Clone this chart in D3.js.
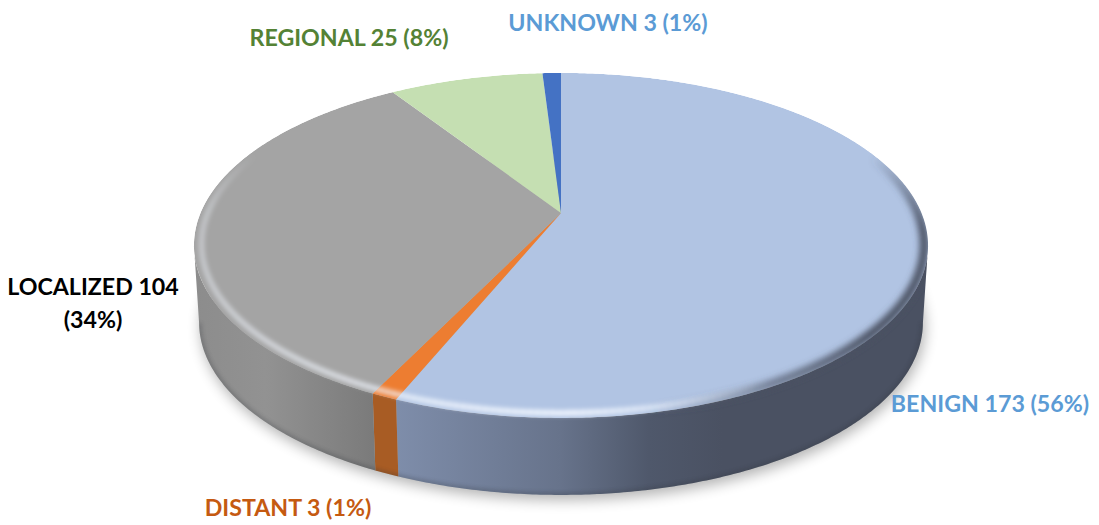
<!DOCTYPE html>
<html><head><meta charset="utf-8">
<script src="https://cdn.jsdelivr.net/npm/d3@7"></script>
<style>html,body{margin:0;padding:0;background:#fff}svg{display:block}text{font-family:Lato,sans-serif;font-weight:700;font-size:23.2px}</style>
</head><body><svg id="c" width="1099" height="525"></svg>
<script>
const categories=["BENIGN","DISTANT","LOCALIZED","REGIONAL","UNKNOWN"];
const values=[173,3,104,25,3];
const percents=["56%","1%","34%","8%","1%"];
const topColors=["#b1c4e3","#ed7d31","#a4a4a4","#c5dfb2","#4472c4"];
const labelColors=["#5b9bd5","#c55a11","#000000","#548235","#5b9bd5"];
const labelLines=[["BENIGN 173 (56%)"],["DISTANT 3 (1%)"],["LOCALIZED 104","(34%)"],["REGIONAL 25 (8%)"],["UNKNOWN 3 (1%)"]];
const labelAnchors=[[990,403],[288,507],[93,286],[349,37],[608,22]];
const wallStops=[
 [[0.27,"#7f8eab"],[0.5,"#67738b"],[0.62,"#4f586b"],[0.72,"#4a5162"],[1,"#4a5162"]],
 [[0,"#a85c24"],[1,"#a85c24"]],
 [[0,"#8c8c8c"],[0.1,"#929292"],[0.25,"#7a7a7a"],[0.3,"#747474"]],
 [[0,"#8fa080"],[1,"#8fa080"]],
 [[0,"#30518c"],[1,"#30518c"]]
];
const W=1099,H=525;
const cx=561,cy=213,A=360.5,B=166.4,K=-0.188,DEPTH=77,SHRINK=0.014;
const svg=d3.select("#c");
const defs=svg.append("defs");
const project=(t,z=0,r=1)=>{
  const u=r*Math.sin(t),v=-r*Math.cos(t),d=1+K*v;
  const X=A*u/d,Y=B*v/d;
  return [cx+X*(1-SHRINK*z),cy+Y+DEPTH*z];
};
const line=d3.line();
const arcs=d3.pie().sort(null).value(d=>d)(values);
const step=Math.PI/360;
const thetas=(a,b)=>{const n=Math.max(2,Math.ceil((b-a)/step));return d3.range(n+1).map(i=>a+(b-a)*i/n);};
const full=thetas(0,2*Math.PI);

defs.append("filter").attr("id","shadow").attr("x","-10%").attr("y","-20%").attr("width","120%").attr("height","140%")
  .append("feGaussianBlur").attr("stdDeviation",7);
defs.append("filter").attr("id","soft1").attr("x","-5%").attr("y","-5%").attr("width","110%").attr("height","110%")
  .append("feGaussianBlur").attr("stdDeviation",2.2);
defs.append("filter").attr("id","soft2").attr("x","-5%").attr("y","-5%").attr("width","110%").attr("height","110%")
  .append("feGaussianBlur").attr("stdDeviation",3);

const xg=d3.scaleLinear().domain([0,1]).range([192,929]);
wallStops.forEach((st,i)=>{
  const g=defs.append("linearGradient").attr("id","wall"+i).attr("gradientUnits","userSpaceOnUse")
    .attr("x1",xg(0)).attr("x2",xg(1)).attr("y1",0).attr("y2",0);
  st.forEach(s=>g.append("stop").attr("offset",s[0]).attr("stop-color",s[1]));
});

// silhouette angles: where the projected disc is widest
const sweep=thetas(0,2*Math.PI);
const frontA=d3.greatest(sweep,t=>project(t,0)[0]);
const frontB=d3.least(sweep,t=>project(t,0)[0]);
const wallPath=(a,b)=>{
  const ts=thetas(a,b);
  return line([...ts.map(t=>project(t,0)),...ts.slice().reverse().map(t=>project(t,1))])+"Z";
};
const clip=defs.append("clipPath").attr("id","body");
clip.append("path").attr("d",line(full.map(t=>project(t,0)))+"Z");
clip.append("path").attr("d",wallPath(frontA,frontB));

// drop shadow beneath the disc
svg.append("path").attr("d",line(full.map(t=>project(t,1)))+"Z")
  .attr("transform","translate(2,5)").attr("fill","#000").attr("opacity",0.3).attr("filter","url(#shadow)");

// side walls, visible front part only
arcs.forEach((d,i)=>{
  const a=Math.max(d.startAngle,frontA),b=Math.min(d.endAngle,frontB);
  if(b>a) svg.append("path").attr("d",wallPath(a,b)).attr("fill",`url(#wall${i})`);
});
const body=svg.append("g").attr("clip-path","url(#body)");
body.append("path").attr("d",line(thetas(frontA,frontB).map(t=>project(t,1))))
  .attr("fill","none").attr("stroke","#2f3338").attr("stroke-width",4).attr("opacity",0.3).attr("filter","url(#soft1)");

// top faces
arcs.forEach((d,i)=>{
  const pts=[project(0,0,0),...thetas(d.startAngle,d.endAngle).map(t=>project(t,0))];
  body.append("path").attr("d",line(pts)+"Z").attr("fill",topColors[i]);
});

// bevel
const deg=Math.PI/180;
const darkOp=d3.scaleLinear().domain([68,95,130,150,168]).range([0,0.95,1,0.55,0]).clamp(true);
const lightOp=d3.scaleLinear().domain([150,178,205,240,270,292]).range([0,0.85,0.6,0.4,0.3,0]).clamp(true);
const darkG=body.append("g").attr("filter","url(#soft2)");
const lightG=body.append("g").attr("filter","url(#soft1)");
d3.range(65,172,1).forEach(a=>{
  darkG.append("path").attr("d",line(thetas(a*deg,(a+1.2)*deg).map(t=>project(t,0,0.99))))
    .attr("fill","none").attr("stroke","#4a5162").attr("stroke-width",9).attr("opacity",darkOp(a));
});
d3.range(150,294,1).forEach(a=>{
  lightG.append("path").attr("d",line(thetas(a*deg,(a+1.2)*deg).map(t=>project(t,0,0.98))))
    .attr("fill","none").attr("stroke","#f2f7ff").attr("stroke-width",6).attr("opacity",lightOp(a));
});

// labels
labelLines.forEach((ls,i)=>{
  ls.forEach((s,j)=>{
    svg.append("text").attr("x",labelAnchors[i][0]).attr("y",labelAnchors[i][1]+j*33)
      .attr("text-anchor","middle").attr("dominant-baseline","central")
      .attr("fill",labelColors[i]).text(s);
  });
});
</script></body></html>
